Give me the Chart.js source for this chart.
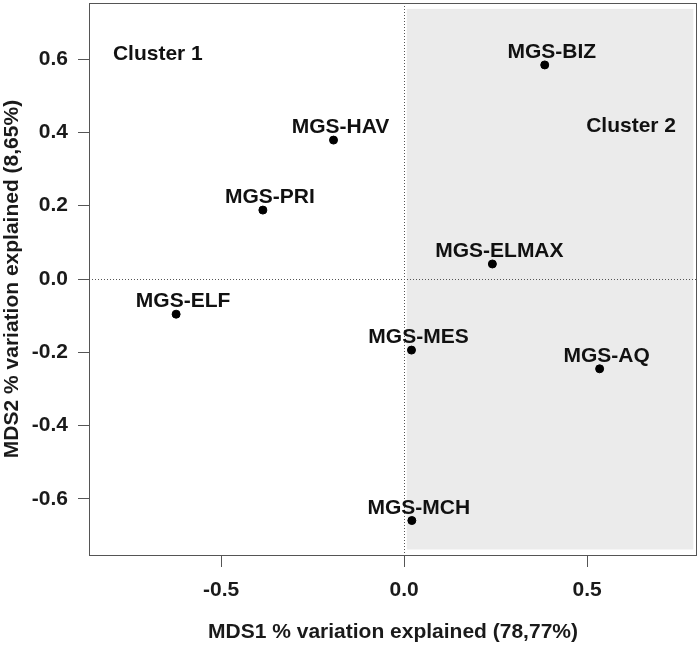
<!DOCTYPE html>
<html>
<head>
<meta charset="utf-8">
<script src="https://cdn.jsdelivr.net/npm/chart.js@4/dist/chart.umd.min.js"></script>
<style>
  html, body { margin: 0; padding: 0; background: #fff; }
  #wrap { width: 700px; height: 646px; }
</style>
</head>
<body>
<div id="wrap"><canvas id="myChart" width="700" height="646"></canvas></div>
<script>
// MDS ordination of samples
const samples = ['MGS-HAV', 'MGS-PRI', 'MGS-BIZ', 'MGS-ELMAX', 'MGS-ELF', 'MGS-MES', 'MGS-MCH', 'MGS-AQ'];
const mds1 = [-0.193, -0.386, 0.384, 0.241, -0.623, 0.020, 0.021, 0.534];
const mds2 = [0.379, 0.188, 0.584, 0.041, -0.096, -0.194, -0.659, -0.245];

const xTicks = [-0.5, 0.0, 0.5];
const yTicks = [-0.6, -0.4, -0.2, 0.0, 0.2, 0.4, 0.6];

const clusterNames = ['Cluster 1', 'Cluster 2'];
const clusterX = [-0.673, 0.62];
const clusterY = [0.614, 0.416];

// shaded area for cluster 2 (data units)
const shadeX = [0.007, 0.79];
const shadeY = [-0.738, 0.737];

const FONT = "'Liberation Sans', Arial, Helvetica, sans-serif";

function noPad(s) {
  s.paddingTop = 0; s.paddingBottom = 0; s.paddingLeft = 0; s.paddingRight = 0;
}

const decor = {
  id: 'decor',
  beforeDatasetsDraw(chart) {
    const ctx = chart.ctx;
    const a = chart.chartArea;
    const xs = chart.scales.x, ys = chart.scales.y;
    ctx.save();
    // grey box
    const x0 = xs.getPixelForValue(shadeX[0]), x1 = xs.getPixelForValue(shadeX[1]);
    const y0 = ys.getPixelForValue(shadeY[1]), y1 = ys.getPixelForValue(shadeY[0]);
    ctx.fillStyle = '#ebebeb';
    ctx.fillRect(x0, y0, x1 - x0, y1 - y0);
    // dotted zero lines
    ctx.strokeStyle = '#555';
    ctx.lineWidth = 1;
    ctx.setLineDash([1, 2]);
    const zx = Math.round(xs.getPixelForValue(0)) + 0.5;
    const zy = Math.round(ys.getPixelForValue(0)) + 0.5;
    ctx.beginPath();
    ctx.moveTo(zx, a.top); ctx.lineTo(zx, a.bottom);
    ctx.moveTo(a.left, zy); ctx.lineTo(a.right, zy);
    ctx.stroke();
    ctx.setLineDash([]);
    // plot frame
    ctx.strokeStyle = '#555';
    ctx.strokeRect(Math.round(a.left) + 0.5, Math.round(a.top) + 0.5,
      Math.round(a.right - a.left) - 1, Math.round(a.bottom - a.top));
    // cluster captions
    ctx.fillStyle = '#111';
    ctx.font = 'bold 21px ' + FONT;
    ctx.textAlign = 'center';
    ctx.textBaseline = 'middle';
    clusterNames.forEach((n, i) => {
      ctx.fillText(n, xs.getPixelForValue(clusterX[i]), ys.getPixelForValue(clusterY[i]));
    });
    ctx.restore();
  },
  afterDatasetsDraw(chart) {
    const ctx = chart.ctx;
    const meta = chart.getDatasetMeta(0);
    ctx.save();
    ctx.fillStyle = '#111';
    ctx.font = 'bold 21px ' + FONT;
    ctx.textAlign = 'center';
    ctx.textBaseline = 'alphabetic';
    meta.data.forEach((pt, i) => {
      ctx.fillText(samples[i], pt.x + 7, pt.y - 7);
    });
    ctx.restore();
  }
};

new Chart(document.getElementById('myChart'), {
  type: 'scatter',
  data: {
    datasets: [{
      data: mds1.map((v, i) => ({ x: v, y: mds2[i] })),
      backgroundColor: '#000',
      borderColor: '#000',
      pointRadius: 4,
      pointHoverRadius: 4
    }]
  },
  options: {
    responsive: false,
    animation: false,
    events: [],
    layout: { autoPadding: false, padding: { top: 3, right: 3, left: 0, bottom: 0 } },
    plugins: { legend: { display: false }, tooltip: { enabled: false } },
    scales: {
      x: {
        type: 'linear',
        min: -0.861,
        max: 0.80,
        afterBuildTicks: s => { s.ticks = xTicks.map(v => ({ value: v })); },
        afterFit: s => { s.height = 91; noPad(s); },
        grid: { drawOnChartArea: false, drawTicks: true, tickLength: 12, color: '#555' },
        border: { display: false },
        ticks: {
          padding: 11,
          color: '#1a1a1a',
          font: { family: FONT, size: 21, weight: 'bold' },
          maxRotation: 0,
          callback: v => v.toFixed(1)
        },
        title: {
          display: true,
          text: 'MDS1 % variation explained (78,77%)',
          color: '#1a1a1a',
          font: { family: FONT, size: 21, weight: 'bold' },
          padding: { top: 0, bottom: 1 }
        }
      },
      y: {
        type: 'linear',
        min: -0.753,
        max: 0.753,
        afterBuildTicks: s => { s.ticks = yTicks.map(v => ({ value: v })); },
        afterFit: s => { s.width = 89; noPad(s); },
        grid: { drawOnChartArea: false, drawTicks: true, tickLength: 11, color: '#555' },
        border: { display: false },
        ticks: {
          padding: 10,
          color: '#1a1a1a',
          font: { family: FONT, size: 21, weight: 'bold' },
          callback: v => v.toFixed(1)
        },
        title: {
          display: true,
          text: 'MDS2 % variation explained (8,65%)',
          color: '#1a1a1a',
          font: { family: FONT, size: 21, weight: 'bold' },
          padding: { top: 0, bottom: 0 }
        }
      }
    }
  },
  plugins: [decor]
});
</script>
</body>
</html>
